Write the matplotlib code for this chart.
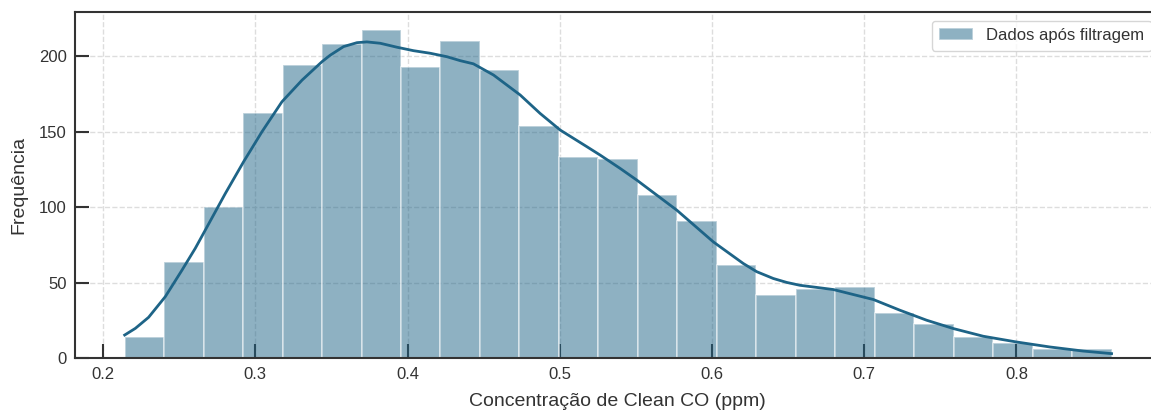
import numpy as np
import matplotlib
matplotlib.use("Agg")
import matplotlib.pyplot as plt

plt.rcParams['font.family'] = ['Liberation Sans', 'DejaVu Sans']

# histogram of the filtered CO readings (25 equal bins)
co_min, co_max = 0.2142, 0.8625
counts = [14, 64, 100, 162, 194, 208, 217, 193, 210, 191,
          154, 133, 132, 108, 91, 62, 42, 46, 47, 30,
          23, 14, 10, 6, 6]

# density curve, scaled to counts
kde_x = [0.2142, 0.2212, 0.2299, 0.2409, 0.2519, 0.2606, 0.2672, 0.2803,
         0.2923, 0.3044, 0.3175, 0.3307, 0.3438, 0.3492, 0.3580, 0.3668,
         0.3733, 0.3821, 0.3930, 0.4039, 0.4149, 0.4259, 0.4346, 0.4433,
         0.4565, 0.4740, 0.4871, 0.5003, 0.5178, 0.5266, 0.5397, 0.5506,
         0.5769, 0.6009, 0.6206, 0.6294, 0.6403, 0.6491, 0.6578, 0.6688,
         0.6797, 0.6972, 0.7060, 0.7235, 0.7410, 0.7585, 0.7782, 0.8001,
         0.8220, 0.8439, 0.8625]
kde_y = [15.4, 19.8, 27.1, 40.8, 58.4, 72.8, 84.9, 109.0,
         130.0, 149.9, 169.7, 184.0, 196.2, 200.5, 206.2, 208.8,
         209.3, 208.4, 205.8, 203.5, 201.8, 199.5, 196.9, 194.8,
         187.4, 174.2, 162.0, 151.0, 140.0, 134.4, 125.6, 117.9,
         98.0, 77.0, 62.7, 57.3, 52.8, 50.2, 48.3, 46.9,
         45.5, 41.1, 38.9, 31.8, 25.2, 19.7, 14.6, 10.8,
         7.5, 4.8, 3.1]

line_color = '#1e6487'
text_color = '#333333'

fig = plt.figure(figsize=(11.51, 4.12), dpi=100)
ax = fig.add_axes([0.0652, 0.1303, 0.9426, 0.8399])

edges = np.linspace(co_min, co_max, len(counts) + 1)
ax.bar(edges[:-1], counts, width=np.diff(edges), align='edge',
       color=line_color, alpha=0.5, edgecolor='white', linewidth=1.2,
       label='Dados após filtragem', zorder=2)
ax.plot(kde_x, kde_y, color=line_color, linewidth=2, zorder=3,
        solid_joinstyle='round')

ax.set_xlim(0.1816, 0.8943)
ax.set_ylim(0, 228.9)
ax.set_xticks([0.2, 0.3, 0.4, 0.5, 0.6, 0.7, 0.8])
ax.set_yticks([0, 50, 100, 150, 200])

ax.grid(True, linestyle='--', color='#dddddd', linewidth=1, zorder=0)
ax.set_axisbelow(True)
ax.tick_params(direction='in', length=10, width=1.5, colors=text_color,
               labelsize=12, labelcolor=text_color, pad=6)
for s in ax.spines.values():
    s.set_color(text_color)
    s.set_linewidth(1.5)

ax.set_xlabel('Concentração de Clean CO (ppm)', fontsize=14, color=text_color, labelpad=8)
ax.set_ylabel('Frequência', fontsize=14, color=text_color, labelpad=8)

leg = ax.legend(loc='upper right', fontsize=12, frameon=True, fancybox=True,
                borderaxespad=0.5, borderpad=0.45)
leg.get_frame().set_edgecolor('#cccccc')
for t in leg.get_texts():
    t.set_color(text_color)

fig.savefig('out.png', dpi=100)
